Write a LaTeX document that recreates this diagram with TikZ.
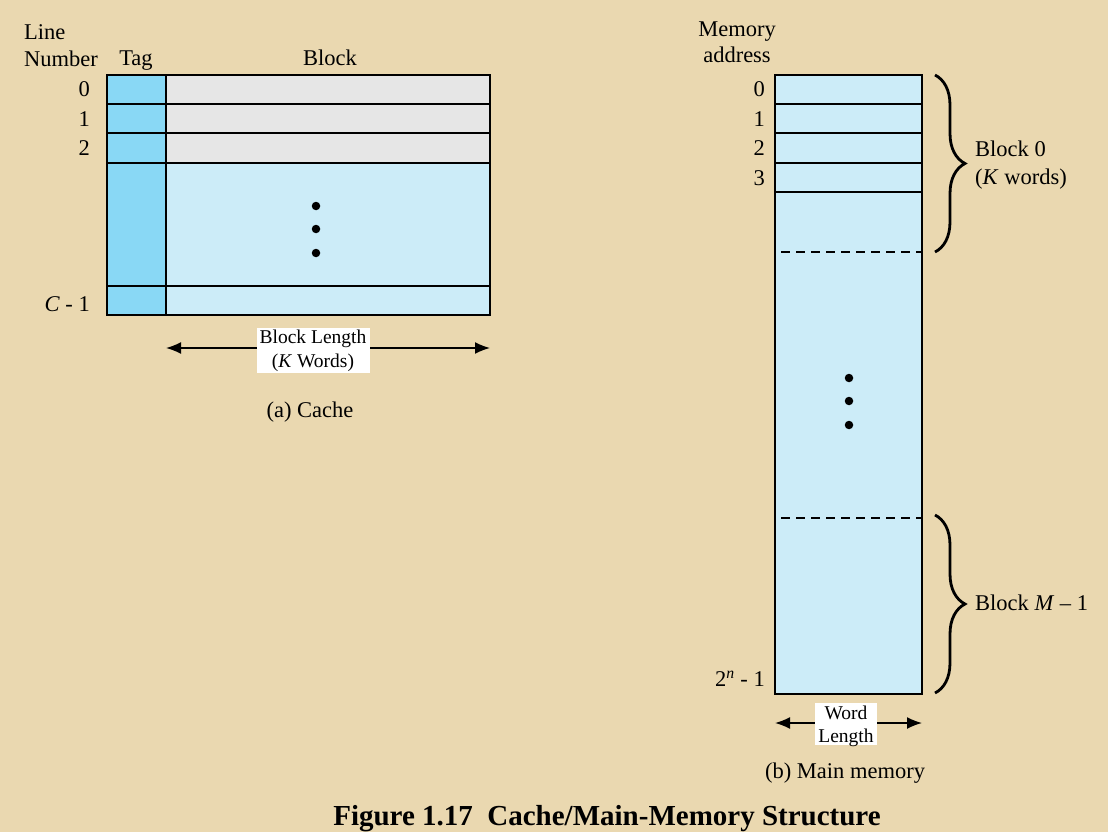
\documentclass[tikz,border=0pt]{standalone}
\usepackage{fontspec}
\setmainfont{Liberation Serif}
\usetikzlibrary{arrows.meta,decorations.pathreplacing}
\definecolor{bgc}{RGB}{234,216,176}
\definecolor{tagc}{RGB}{137,216,245}
\definecolor{grayc}{RGB}{230,230,230}
\definecolor{lblue}{RGB}{204,236,248}
\tikzset{
  txt/.style={inner sep=0pt, font=\fontsize{22.5}{25}\selectfont},
  small/.style={inner sep=0pt, font=\fontsize{19.5}{22}\selectfont},
  wbox/.style={fill=white, draw=none},
  boxline/.style={line width=1.6pt},
  dim/.style={line width=1.6pt, {Latex[length=15pt,width=12pt]}-{Latex[length=15pt,width=12pt]}},
  brc/.style={decorate, decoration={brace, amplitude=30pt}, line width=2.8pt},
  dot/.style={circle, fill=black, inner sep=0pt, minimum size=8.5pt},
  dsh/.style={line width=1.3pt, dash pattern=on 9pt off 6pt}
}
\begin{document}
\begin{tikzpicture}[x=1pt,y=-1pt]
\fill[bgc] (0,0) rectangle (1108,832);
\useasboundingbox (0,0) rectangle (1108,832);

% ---------- Cache ----------
\fill[tagc] (107,75) rectangle (166,315);
\fill[grayc] (166,75) rectangle (490,163);
\fill[lblue] (166,163) rectangle (490,315);
\draw[boxline] (107,75) rectangle (490,315);
\draw[boxline] (166,75) -- (166,315);
\foreach \y in {104,133,163,286} \draw[boxline] (107,\y) -- (490,\y);

\node[txt, anchor=base west] (ln1) at (24,40) {Line};
\node[txt, anchor=base west] (ln2) at (24,67) {Number};
\node[txt, anchor=base] (tag) at (136,66) {Tag};
\node[txt, anchor=base] (blk) at (330,66) {Block};
\node[txt, anchor=base east] (c0) at (90,97) {0};
\node[txt, anchor=base east] (c1) at (90,127) {1};
\node[txt, anchor=base east] (c2) at (90,156) {2};
\node[txt, anchor=base east] (cc) at (90,311) {\textit{C} - 1};

\node[dot] (d1) at (316,206) {};
\node[dot] (d2) at (316,229) {};
\node[dot] (d3) at (316,253) {};

\coordinate (bl) at (166,348);
\coordinate (br) at (490,348);
\draw[dim] (bl) -- (br);
\fill[wbox] (257,328) rectangle (370,373);
\node[small, anchor=base] (bll1) at (313,343) {Block Length};
\node[small, anchor=base] (bll2) at (313,367) {(\textit{K} Words)};
\node[txt, anchor=base] (capa) at (310,417) {(a) Cache};

% ---------- Main memory ----------
\fill[lblue] (775,75) rectangle (922,694);
\draw[boxline] (775,75) rectangle (922,694);
\foreach \y in {104,133,163,192} \draw[boxline] (775,\y) -- (922,\y);
\draw[dsh] (781,252) -- (922,252);
\draw[dsh] (781,518) -- (922,518);

\node[txt, anchor=base] (ma1) at (737,37) {Memory};
\node[txt, anchor=base] (ma2) at (737,63) {address};
\node[txt, anchor=base east] (m0) at (765,97) {0};
\node[txt, anchor=base east] (m1) at (765,127) {1};
\node[txt, anchor=base east] (m2) at (765,156) {2};
\node[txt, anchor=base east] (m3) at (765,185) {3};
\node[txt, anchor=base east] (mn) at (765,686) {2\textsuperscript{\textit{n}} - 1};

\node[dot] (e1) at (849,378) {};
\node[dot] (e2) at (849,401) {};
\node[dot] (e3) at (849,425) {};

\coordinate (b0t) at (935,75);
\coordinate (b0b) at (935,252);
\draw[brc] (b0t) -- (b0b);
\coordinate (bmt) at (935,515);
\coordinate (bmb) at (935,693);
\draw[brc] (bmt) -- (bmb);
\node[txt, anchor=base west] (blk0a) at (975,157) {Block 0};
\node[txt, anchor=base west] (blk0b) at (975,184) {(\textit{K} words)};
\node[txt, anchor=base west] (blkm) at (975,610) {Block \textit{M} – 1};

\coordinate (wl) at (775,723);
\coordinate (wr) at (922,723);
\draw[dim] (wl) -- (wr);
\fill[wbox] (815,703) rectangle (877,745);
\node[small, anchor=base] (wll1) at (846,719) {Word};
\node[small, anchor=base] (wll2) at (846,742) {Length};
\node[txt, anchor=base] (capb) at (845,778) {(b) Main memory};

\node[inner sep=0pt, anchor=base, font=\fontsize{29}{32}\selectfont\bfseries] (title) at (607,825) {Figure 1.17\ \ Cache/Main-Memory Structure};
\end{tikzpicture}
\end{document}
